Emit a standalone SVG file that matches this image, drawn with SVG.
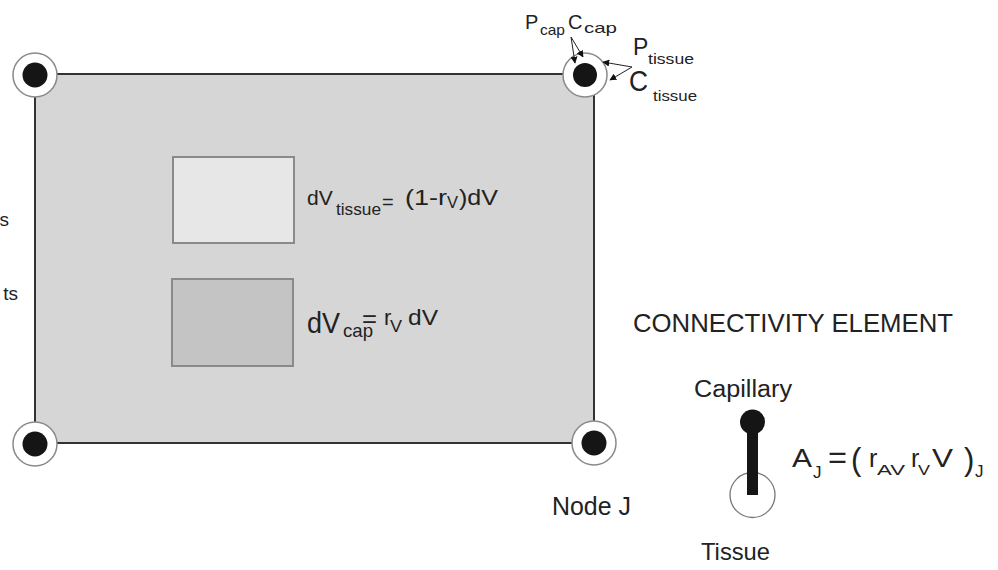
<svg xmlns="http://www.w3.org/2000/svg" width="998" height="570" viewBox="0 0 998 570">
<style>
text{font-family:"Liberation Sans",Arial,sans-serif;fill:#222}
.node-o{fill:#fff;stroke:#8a8a8a;stroke-width:1.5}
.node-i{fill:#151515}
.arr{stroke:#222;stroke-width:1;fill:none;marker-end:url(#ah)}
</style>
<defs>
<marker id="ah" viewBox="0 0 10 10" refX="9" refY="5" markerWidth="7" markerHeight="7" markerUnits="userSpaceOnUse" orient="auto">
<path d="M0,0 L10,5 L0,10 z" fill="#111"/>
</marker>
</defs>
<rect width="998" height="570" fill="#fff"/>

<g id="element-area">
<rect x="35" y="74" width="559" height="369" fill="#d6d6d6" stroke="#333" stroke-width="2"/>
</g>

<g id="tissue-volume">
<rect x="173" y="157" width="121" height="86" fill="#e7e7e7" stroke="#8a8a8a" stroke-width="2"/>
<text x="307" y="205" font-size="21">dV</text>
<text x="336" y="215" font-size="16" textLength="45" lengthAdjust="spacingAndGlyphs">tissue</text>
<text x="382" y="209" font-size="20">=</text>
<text x="405" y="205" font-size="22" textLength="42" lengthAdjust="spacingAndGlyphs">(1-r</text>
<text x="447" y="208" font-size="16" textLength="11" lengthAdjust="spacingAndGlyphs">V</text>
<text x="459" y="205" font-size="22" textLength="39" lengthAdjust="spacingAndGlyphs">)dV</text>
</g>

<g id="cap-volume">
<rect x="172" y="279" width="121" height="87" fill="#c4c4c4" stroke="#8a8a8a" stroke-width="2"/>
<text x="307" y="333" font-size="30" textLength="33" lengthAdjust="spacingAndGlyphs">dV</text>
<text x="343" y="337" font-size="19" textLength="30" lengthAdjust="spacingAndGlyphs">cap</text>
<text x="362" y="327" font-size="24" textLength="15" lengthAdjust="spacingAndGlyphs">=</text>
<text x="384" y="325" font-size="22">r</text>
<text x="390" y="332" font-size="16" textLength="12" lengthAdjust="spacingAndGlyphs">V</text>
<text x="408" y="325" font-size="22" textLength="30" lengthAdjust="spacingAndGlyphs">dV</text>
</g>

<g id="node-tl">
<circle class="node-o" cx="35" cy="75" r="22"/>
<circle class="node-i" cx="35" cy="75" r="12.5"/>
</g>
<g id="node-tr">
<circle class="node-o" cx="585" cy="75" r="22"/>
<circle class="node-i" cx="585" cy="75" r="12"/>
</g>
<g id="node-bl">
<circle class="node-o" cx="35" cy="444" r="22"/>
<circle class="node-i" cx="35" cy="444" r="12.5"/>
</g>
<g id="node-j">
<circle class="node-o" cx="594" cy="443" r="22"/>
<circle class="node-i" cx="594" cy="443" r="12.5"/>
<text x="552" y="515" font-size="25" textLength="79" lengthAdjust="spacingAndGlyphs">Node J</text>
</g>

<g id="node-labels">
<text x="525" y="29" font-size="20">P</text>
<text x="540" y="35" font-size="15" textLength="25" lengthAdjust="spacingAndGlyphs">cap</text>
<text x="568" y="29" font-size="20">C</text>
<text x="584" y="33" font-size="15" textLength="33" lengthAdjust="spacingAndGlyphs">cap</text>
<text x="633" y="55" font-size="23">P</text>
<text x="648" y="64" font-size="15" textLength="46" lengthAdjust="spacingAndGlyphs">tissue</text>
<text x="629" y="91" font-size="29" textLength="19" lengthAdjust="spacingAndGlyphs">C</text>
<text x="653" y="101" font-size="15" textLength="44" lengthAdjust="spacingAndGlyphs">tissue</text>
</g>

<g id="connectors">
<line class="arr" x1="571" y1="37" x2="575" y2="63"/>
<line class="arr" x1="571" y1="37" x2="583" y2="57"/>
<line class="arr" x1="632" y1="67" x2="603" y2="62"/>
<line class="arr" x1="632" y1="67" x2="610" y2="80"/>
</g>

<g id="left-labels">
<text x="9" y="226" font-size="19" text-anchor="end">s</text>
<text x="18" y="300" font-size="19" text-anchor="end">ts</text>
</g>

<g id="connectivity-element">
<text x="633" y="332" font-size="26" textLength="320" lengthAdjust="spacingAndGlyphs">CONNECTIVITY ELEMENT</text>
<text x="694" y="397" font-size="23" textLength="98" lengthAdjust="spacingAndGlyphs">Capillary</text>
<circle cx="752.5" cy="495" r="22.5" fill="#fff" stroke="#777" stroke-width="1.3"/>
<rect x="747" y="422" width="11" height="73" fill="#151515"/>
<circle cx="752.5" cy="422" r="12.5" fill="#151515"/>
<text x="701" y="560" font-size="24" textLength="69" lengthAdjust="spacingAndGlyphs">Tissue</text>
<text x="792" y="467" font-size="25" textLength="20" lengthAdjust="spacingAndGlyphs">A</text>
<text x="813" y="478" font-size="17">J</text>
<text x="828" y="468" font-size="32" textLength="19" lengthAdjust="spacingAndGlyphs">=</text>
<text x="851" y="470" font-size="31">(</text>
<text x="869" y="467" font-size="25">r</text>
<text x="877" y="475" font-size="15" textLength="28" lengthAdjust="spacingAndGlyphs">AV</text>
<text x="911" y="467" font-size="25">r</text>
<text x="918" y="475" font-size="15" textLength="12" lengthAdjust="spacingAndGlyphs">V</text>
<text x="932" y="467" font-size="25" textLength="21" lengthAdjust="spacingAndGlyphs">V</text>
<text x="964" y="470" font-size="31">)</text>
<text x="975" y="477" font-size="17">J</text>
</g>
</svg>
